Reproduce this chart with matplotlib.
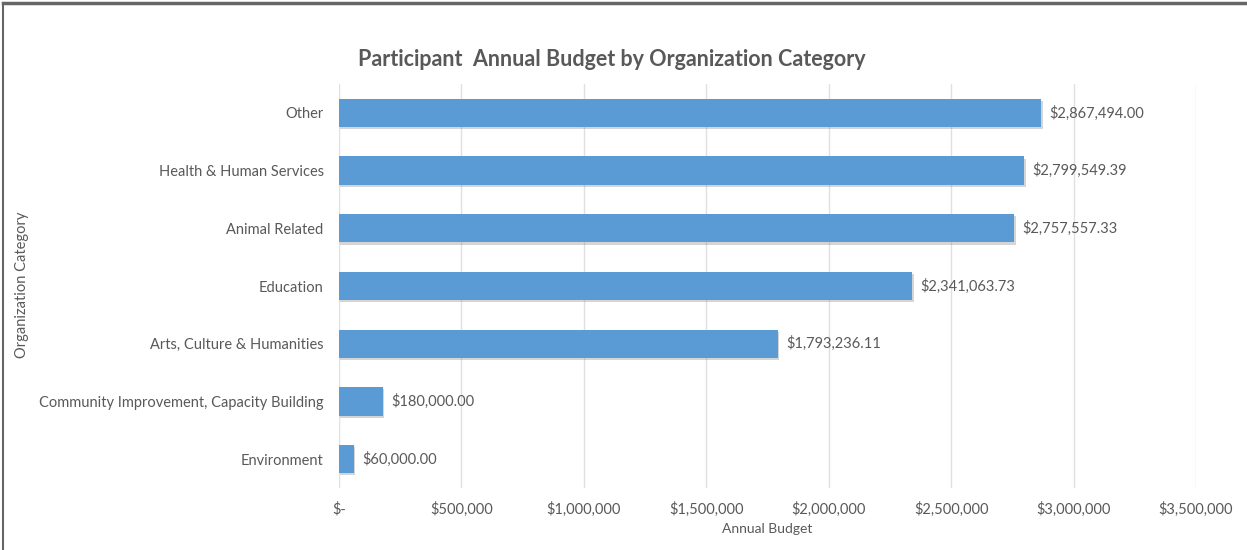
import matplotlib
matplotlib.use("Agg")
import matplotlib.pyplot as plt
from matplotlib.ticker import FuncFormatter, MultipleLocator
import matplotlib.patheffects as pe
from matplotlib.lines import Line2D

categories = ["Environment", "Community Improvement, Capacity Building",
              "Arts, Culture & Humanities", "Education", "Animal Related",
              "Health & Human Services", "Other"]
values = [60000.00, 180000.00, 1793236.11, 2341063.73, 2757557.33,
          2799549.39, 2867494.00]

plt.rcParams['font.family'] = ['Lato', 'DejaVu Sans']
txt = "#595959"

fig = plt.figure(figsize=(12.47, 5.5), dpi=100)
ax = fig.add_axes([339/1247, 1-488/550, (1196-339)/1247, (488-84)/550])

bars = ax.barh(range(len(categories)), values, height=0.49, color="#5B9BD5",
               zorder=3)
for b in bars:
    b.set_path_effects([pe.SimplePatchShadow(offset=(1, -1.5), shadow_rgbFace="#777777", alpha=0.3), pe.Normal()])

for i, v in enumerate(values):
    ax.annotate(f"${v:,.2f}", (v, i), xytext=(6, 0), textcoords="offset points",
                va="center", ha="left", fontsize=10.5, color=txt)

ax.set_xlim(0, 3500000)
ax.set_ylim(-0.5, len(categories) - 0.5)
ax.xaxis.set_major_locator(MultipleLocator(500000))
ax.xaxis.set_major_formatter(FuncFormatter(lambda x, p: "$-" if x == 0 else f"${x:,.0f}"))
ax.set_yticks(range(len(categories)))
ax.set_yticklabels(categories)
ax.tick_params(axis="both", length=0, colors=txt, labelsize=10.5)
ax.tick_params(axis="x", pad=10)
ax.tick_params(axis="y", pad=11)
ax.grid(axis="x", color="#E0E0E0", linewidth=1, zorder=0)
for s in ax.spines.values():
    s.set_visible(False)

ax.set_xlabel("Annual Budget", color=txt, fontsize=10, labelpad=4)
fig.text(22/1247, 1-285/550, "Organization Category", rotation=90, color=txt,
         fontsize=10.5, ha="center", va="center")
fig.text(612/1247, 1-60/550, "Participant  Annual Budget by Organization Category",
         ha="center", va="center", fontsize=15.5, fontweight="bold", color=txt)

fig.add_artist(Line2D([3/1247, 1], [1-3/550, 1-3/550], color="#666666", lw=2.5,
                      transform=fig.transFigure))
fig.add_artist(Line2D([3/1247, 3/1247], [0, 1-3/550], color="#666666", lw=1.5,
                      transform=fig.transFigure))

fig.savefig("out.png", dpi=100)
